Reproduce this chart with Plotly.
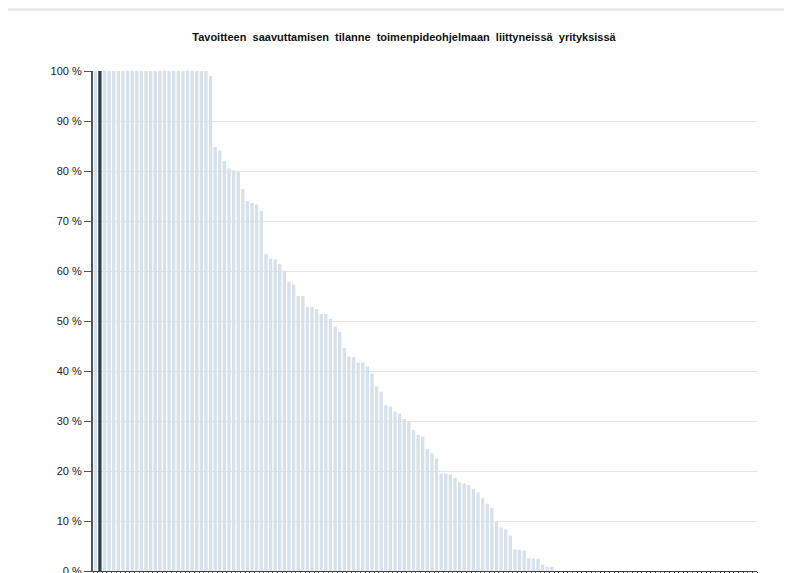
import plotly.graph_objects as go

title_text = "Tavoitteen  saavuttamisen  tilanne  toimenpideohjelmaan  liittyneissä  yrityksissä"

values = [
    100, 100, 100, 100, 100, 100, 100, 100, 100, 100,
    100, 100, 100, 100, 100, 100, 100, 100, 100, 100,
    100, 100, 100, 100, 100, 99.0,
    84.8, 84.1, 82.0, 80.5, 80.1, 79.8, 76.4, 74.0, 73.6, 73.3,
    72.0, 63.4, 62.5, 62.3, 61.4, 60.0, 57.8, 57.3, 55.0, 55.0,
    52.8, 52.8, 52.4, 51.4, 51.4, 50.4, 48.9, 47.8, 44.6, 42.9,
    42.7, 41.7, 41.7, 40.9, 39.5, 36.9, 35.9, 33.1, 32.9, 31.9,
    31.5, 30.4, 29.9, 28.2, 27.2, 26.9, 24.4, 23.5, 22.5, 19.5,
    19.5, 19.3, 18.6, 17.7, 17.5, 17.2, 16.4, 15.7, 14.6, 13.5,
    12.6, 9.8, 8.7, 8.3, 7.1, 4.3, 4.2, 4.1, 2.5, 2.5,
    2.4, 1.3, 0.8, 0.8,
    0, 0, 0, 0, 0, 0, 0, 0, 0, 0,
    0, 0, 0, 0, 0, 0, 0, 0, 0, 0,
    0, 0, 0, 0, 0, 0, 0, 0, 0, 0,
    0, 0, 0, 0, 0, 0, 0, 0, 0, 0,
    0, 0, 0, 0,
]
companies = [str(i + 1) for i in range(len(values))]
highlight_company = "2"

y_tick_values = [0, 10, 20, 30, 40, 50, 60, 70, 80, 90, 100]
y_tick_labels = ["0 %", "10 %", "20 %", "30 %", "40 %", "50 %",
                 "60 %", "70 %", "80 %", "90 %", "100 %"]

light = "#d6e1eb"
dark = "#2b3f4f"
colors = [dark if c == highlight_company else light for c in companies]

ML, MR, MT, MB = 85, 43, 63, 5
plot_h = 573 - MT - MB

fig = go.Figure(go.Bar(
    x=companies, y=values,
    marker=dict(color=colors, line=dict(width=0)),
    hoverinfo="x+y",
))

fig.update_layout(
    width=792, height=573,
    margin=dict(l=ML, r=MR, t=MT, b=MB),
    paper_bgcolor="white", plot_bgcolor="white",
    bargap=0.28,
    showlegend=False,
    title=dict(text="<b>" + title_text + "</b>", x=0.5, xanchor="center",
               y=1 - 29.5 / 573, yanchor="middle",
               font=dict(family="Liberation Sans, Arial", size=11, color="#111111")),
    font=dict(family="Liberation Sans, Arial", size=11, color="#222222"),
)

fig.update_yaxes(
    range=[0, 100],
    tickvals=y_tick_values, ticktext=y_tick_labels,
    ticks="outside", ticklen=7, tickcolor="#555555", tickwidth=1,
    showgrid=True, gridcolor="#e4e4e4", gridwidth=1,
    showline=True, linecolor="#555555", linewidth=2,
    zeroline=False,
    tickfont=dict(family="Liberation Sans, Arial", size=11, color="#222222"),
)
fig.update_xaxes(
    showticklabels=False,
    tickmode="linear", dtick=1,
    ticks="outside", ticklen=5, tickcolor="#444444", tickwidth=1,
    tickson="boundaries",
    showgrid=False,
    showline=True, linecolor="#444444", linewidth=1,
)

fig.add_shape(type="line", xref="paper", yref="paper",
              x0=-ML / (792 - ML - MR), x1=(792 - ML) / (792 - ML - MR),
              y0=1 + (MT - 1) / plot_h, y1=1 + (MT - 1) / plot_h,
              line=dict(color="#e2e2e2", width=2))

fig.write_html("out.html")
